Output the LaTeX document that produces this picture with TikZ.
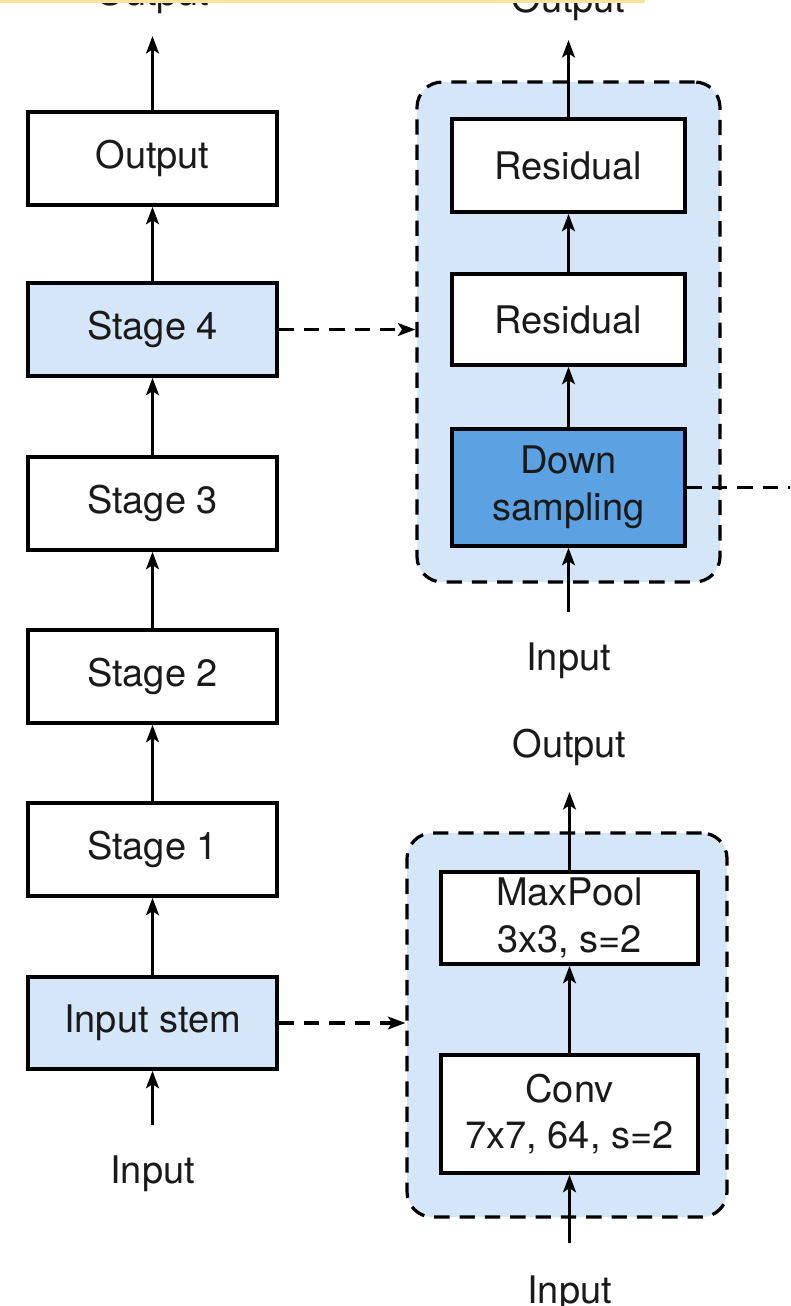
\documentclass[tikz,border=0pt]{standalone}
\usepackage{fontspec}
\setmainfont{TeX Gyre Heros}
\usetikzlibrary{arrows.meta}
\definecolor{lightblue}{HTML}{D5E6F8}
\definecolor{darkblue}{HTML}{5CA2E2}
\definecolor{stripyellow}{HTML}{FCE39B}
\definecolor{txt}{HTML}{1A1A1A}
\begin{document}
\begin{tikzpicture}[x=0.75pt,y=-0.75pt,
  every node/.style={font=\fontsize{28.5}{35}\selectfont, text=txt},
  box/.style={draw=black, line width=2.6pt, fill=white, align=center, inner sep=0pt, minimum width=#1},
  box/.default=186.75pt,
  lbl/.style={inner sep=0pt},
  container/.style={draw=black, line width=2.4pt, dash pattern=on 11.5pt off 7.5pt, fill=lightblue, rounded corners=19pt, inner sep=0pt},
  arr/.style={line width=2.6pt, -{Stealth[length=13pt,width=9.5pt,inset=3pt]}},
  darr/.style={line width=2.6pt, dash pattern=on 11.5pt off 7.5pt, -{Stealth[length=13pt,width=9.5pt,inset=3pt]}},
  dline/.style={line width=2.6pt, dash pattern=on 11.5pt off 7.5pt}
]
\useasboundingbox (0,0) rectangle (790,1306);
\clip (0,0) rectangle (790,1306);
\fill[white] (0,0) rectangle (790,1306);

% left column
\node[box, minimum height=69.75pt] (out) at (152.5,158.5) {Output};
\node[box, fill=lightblue, minimum height=69.75pt] (s4) at (152.5,329.5) {Stage 4};
\node[box, minimum height=69.75pt] (s3) at (152.5,503.5) {Stage 3};
\node[box, minimum height=69.75pt] (s2) at (152.5,676.5) {Stage 2};
\node[box, minimum height=69.75pt] (s1) at (152.5,849.5) {Stage 1};
\node[box, fill=lightblue, minimum height=69pt] (stem) at (152.5,1023) {Input stem};
\coordinate (inL) at (152.5,1125);
\coordinate (outL) at (152.5,36);
\node[lbl, anchor=base] (inLlbl) at (152.5,1183) {Input};
\node[lbl, anchor=base] (outLlbl) at (152.5,6) {Output};

\draw[arr] (inL) -- (stem.south);
\draw[arr] (stem.north) -- (s1.south);
\draw[arr] (s1.north) -- (s2.south);
\draw[arr] (s2.north) -- (s3.south);
\draw[arr] (s3.north) -- (s4.south);
\draw[arr] (s4.north) -- (out.south);
\draw[arr] (out.north) -- (outL);

% top-right block
\node[container, minimum width=227.25pt, minimum height=375pt] (blkA) at (568.5,332) {};
\node[box=174.75pt, minimum height=69.75pt] (res1) at (568.5,165.5) {Residual};
\node[box=174.75pt, minimum height=68.25pt] (res2) at (568.5,319.5) {Residual};
\node[box=174.75pt, fill=darkblue, minimum height=87.75pt] (down) at (568.5,487.5) {Down\\sampling};
\coordinate (inA) at (568.5,612);
\coordinate (outA) at (568.5,40);
\coordinate (ext) at (800,487.5);
\node[lbl, anchor=base] (inAlbl) at (568.5,670) {Input};
\node[lbl, anchor=base] (outAlbl) at (568.5,13) {Output};

\draw[arr] (inA) -- (down.south);
\draw[arr] (down.north) -- (res2.south);
\draw[arr] (res2.north) -- (res1.south);
\draw[arr] (res1.north) -- (outA);
\draw[dline] (down.east) -- (ext);
\draw[darr] (s4.east) -- (s4.east -| blkA.west);

% bottom-right block
\node[container, minimum width=240pt, minimum height=288pt] (blkB) at (567,1025) {};
\node[box=192.75pt, minimum height=69pt] (pool) at (569.5,918) {MaxPool\\3x3, s=2};
\node[box=192.75pt, minimum height=88.5pt] (conv) at (569.5,1114) {Conv\\7x7, 64, s=2};
\coordinate (inB) at (569.5,1243);
\coordinate (outB) at (569.5,792);
\node[lbl, anchor=base] (inBlbl) at (569.5,1303) {Input};
\node[lbl, anchor=base] (outBlbl) at (569.5,757) {Output};

\draw[arr] (inB) -- (conv.south);
\draw[arr] (conv.north) -- (pool.south);
\draw[arr] (pool.north) -- (outB);
\draw[darr] (stem.east) -- (stem.east -| blkB.west);

% top strip
\fill[stripyellow] (0,0) rectangle (645,3.5);
\end{tikzpicture}
\end{document}
